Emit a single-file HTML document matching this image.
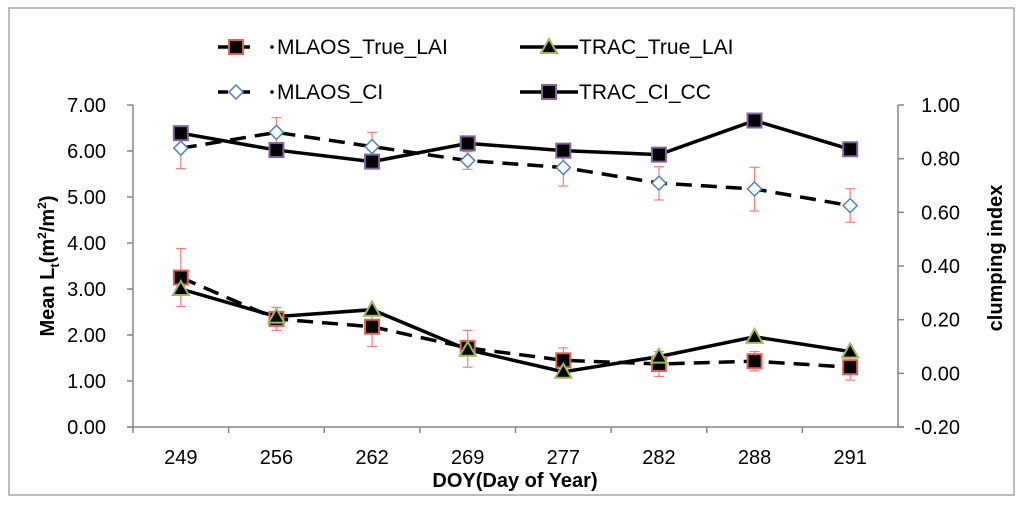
<!DOCTYPE html>
<html><head><meta charset="utf-8"><style>
body{margin:0;background:#fff}
svg{display:block;font-family:"Liberation Sans",sans-serif}
</style></head><body>
<svg id="chart" width="1024" height="505" viewBox="0 0 1024 505">
<rect x="9" y="8" width="1005" height="487" fill="#fff" stroke="#a6a6a6" stroke-width="1.5"/>
<g id="axes"></g>
<g id="series"></g>
<g id="legend"></g>
<text x="0" y="0" transform="translate(54,266) rotate(-90)" text-anchor="middle" font-size="20" font-weight="bold">Mean L<tspan font-size="13" dy="5">t</tspan><tspan dy="-5">(m</tspan><tspan font-size="12" dy="-8">2</tspan><tspan dy="8">/m</tspan><tspan font-size="12" dy="-8">2</tspan><tspan dy="8">)</tspan></text>
<text x="0" y="0" transform="translate(1002,258) rotate(-90)" text-anchor="middle" font-size="20" font-weight="bold">clumping index</text>
<text x="515" y="487" text-anchor="middle" font-size="20" font-weight="bold">DOY(Day of Year)</text>
</svg>
<script>
const categories = ["249","256","262","269","277","282","288","291"];
const leftTicks = ["0.00","1.00","2.00","3.00","4.00","5.00","6.00","7.00"];
const rightTicks = ["-0.20","0.00","0.20","0.40","0.60","0.80","1.00"];
const mlaosLai = [3.25,2.35,2.18,1.72,1.45,1.37,1.43,1.30];
const mlaosLaiHi = [3.88,2.60,2.42,2.10,1.72,1.64,1.64,1.50];
const mlaosLaiLo = [2.62,2.10,1.75,1.30,1.20,1.10,1.22,1.02];
const tracLai = [3.0,2.4,2.55,1.68,1.2,1.53,1.96,1.64];
const tracCi = [0.895,0.832,0.789,0.857,0.830,0.815,0.942,0.835];
const mlaosCi = [0.839,0.898,0.845,0.793,0.767,0.709,0.687,0.625];
const mlaosCiHi = [0.915,0.953,0.898,0.826,0.836,0.770,0.768,0.688];
const mlaosCiLo = [0.763,0.843,0.790,0.760,0.698,0.646,0.605,0.563];

const NS="http://www.w3.org/2000/svg";
const X0=133,X1=898,Y0=427,Y1=105;
const band=(X1-X0)/categories.length;
const xs=i=>X0+band*(i+0.5);
const yL=v=>Y0-(v-0)/(7-0)*(Y0-Y1);
const yR=v=>Y0-(v+0.2)/(1.2)*(Y0-Y1);
function mk(tag,attrs,parent){const e=document.createElementNS(NS,tag);for(const k in attrs)e.setAttribute(k,attrs[k]);parent.appendChild(e);return e;}
const axes=document.getElementById('axes'),ser=document.getElementById('series'),leg=document.getElementById('legend');
let a=mk('line',{x1:X0,y1:Y1,x2:X0,y2:Y0,stroke:'#868686','stroke-width':1.5},axes);


a=mk('line',{x1:X1,y1:Y1,x2:X1,y2:Y0,stroke:'#868686','stroke-width':1.5},axes);


a=mk('line',{x1:X0-6,y1:Y0,x2:X1+6,y2:Y0,stroke:'#868686','stroke-width':1.5},axes);


leftTicks.forEach(t=>{const y=yL(parseFloat(t));
 mk('line',{x1:X0-6,y1:y,x2:X0,y2:y,stroke:'#868686','stroke-width':1.5},axes);
 const tx=mk('text',{x:106,y:y+7,'text-anchor':'end','font-size':20},axes);tx.textContent=t;
 
 });
rightTicks.forEach(t=>{const y=yR(parseFloat(t));
 mk('line',{x1:X1,y1:y,x2:X1+6,y2:y,stroke:'#868686','stroke-width':1.5},axes);
 const tx=mk('text',{x:960,y:y+7,'text-anchor':'end','font-size':20},axes);tx.textContent=t;
 
 });
categories.forEach((c,i)=>{
 const xt=X0+band*i;mk('line',{x1:xt,y1:Y0,x2:xt,y2:Y0+6,stroke:'#868686','stroke-width':1.5},axes);
 const tx=mk('text',{x:xs(i),y:Y0+37,'text-anchor':'middle','font-size':20},axes);tx.textContent=c;
 
 });
function errs(hi,lo,sc,name){hi.forEach((h,i)=>{const g=mk('g',{stroke:'#f47c7c','stroke-width':1.2},ser);
 
 
 const x=xs(i);mk('line',{x1:x,y1:sc(h),x2:x,y2:sc(lo[i])},g);
 mk('line',{x1:x-5,y1:sc(h),x2:x+5,y2:sc(h)},g);mk('line',{x1:x-5,y1:sc(lo[i]),x2:x+5,y2:sc(lo[i])},g);});}
function line(vals,sc,dash,name){const p=mk('polyline',{points:vals.map((v,i)=>xs(i)+','+sc(v)).join(' '),fill:'none',stroke:'#000','stroke-width':3.5,'stroke-dasharray':dash||'none'},ser);
 
 }
function marker(kind,x,y,parent){
 if(kind==='sqRed')return mk('rect',{x:x-7,y:y-7,width:14,height:14,fill:'#000',stroke:'#e0605a','stroke-width':2},parent);
 if(kind==='sqPur')return mk('rect',{x:x-7,y:y-7,width:14,height:14,fill:'#000',stroke:'#8064a2','stroke-width':2},parent);
 if(kind==='tri')return mk('polygon',{points:`${x},${y-8} ${x+8},${y+6} ${x-8},${y+6}`,fill:'#000',stroke:'#9bbb59','stroke-width':2},parent);
 return mk('polygon',{points:`${x},${y-7} ${x+7},${y} ${x},${y+7} ${x-7},${y}`,fill:'#fff',stroke:'#4f81bd','stroke-width':1.5},parent);}
function marks(vals,sc,kind,name){vals.forEach((v,i)=>{const m=marker(kind,xs(i),sc(v),ser);
 
 });}
line(mlaosLai,yL,'16,9','mlaos-true-lai-line');
line(tracLai,yL,null,'trac-true-lai-line');
line(mlaosCi,yR,'16,9','mlaos-ci-line');
line(tracCi,yR,null,'trac-ci-cc-line');
errs(mlaosLaiHi,mlaosLaiLo,yL,'mlaos-true-lai-error-bar');
errs(mlaosCiHi,mlaosCiLo,yR,'mlaos-ci-error-bar');
marks(mlaosLai,yL,'sqRed','mlaos-true-lai-point');
marks(tracLai,yL,'tri','trac-true-lai-point');
marks(mlaosCi,yR,'dia','mlaos-ci-point');
marks(tracCi,yR,'sqPur','trac-ci-cc-point');
const legendItems=[["MLAOS_True_LAI",'sqRed',true,218,47],["TRAC_True_LAI",'tri',false,520,47],["MLAOS_CI",'dia',true,218,92],["TRAC_CI_CC",'sqPur',false,520,92]];
legendItems.forEach(([lab,kind,dashed,x,y])=>{const g=mk('g',{},leg);
 
 
 if(dashed){mk('line',{x1:x,y1:y,x2:x+10,y2:y,stroke:'#000','stroke-width':3.5},g);mk('line',{x1:x+24,y1:y,x2:x+32,y2:y,stroke:'#000','stroke-width':3.5},g);mk('circle',{cx:x+54,cy:y,r:1.8,fill:'#000'},g);}
 else mk('line',{x1:x,y1:y,x2:x+58,y2:y,stroke:'#000','stroke-width':3.5},g);
 marker(kind,x+(dashed?18:29),y,g);
 const t=mk('text',{x:x+59,y:y+7,'font-size':21},g);t.textContent=lab;});
</script>
</body></html>
